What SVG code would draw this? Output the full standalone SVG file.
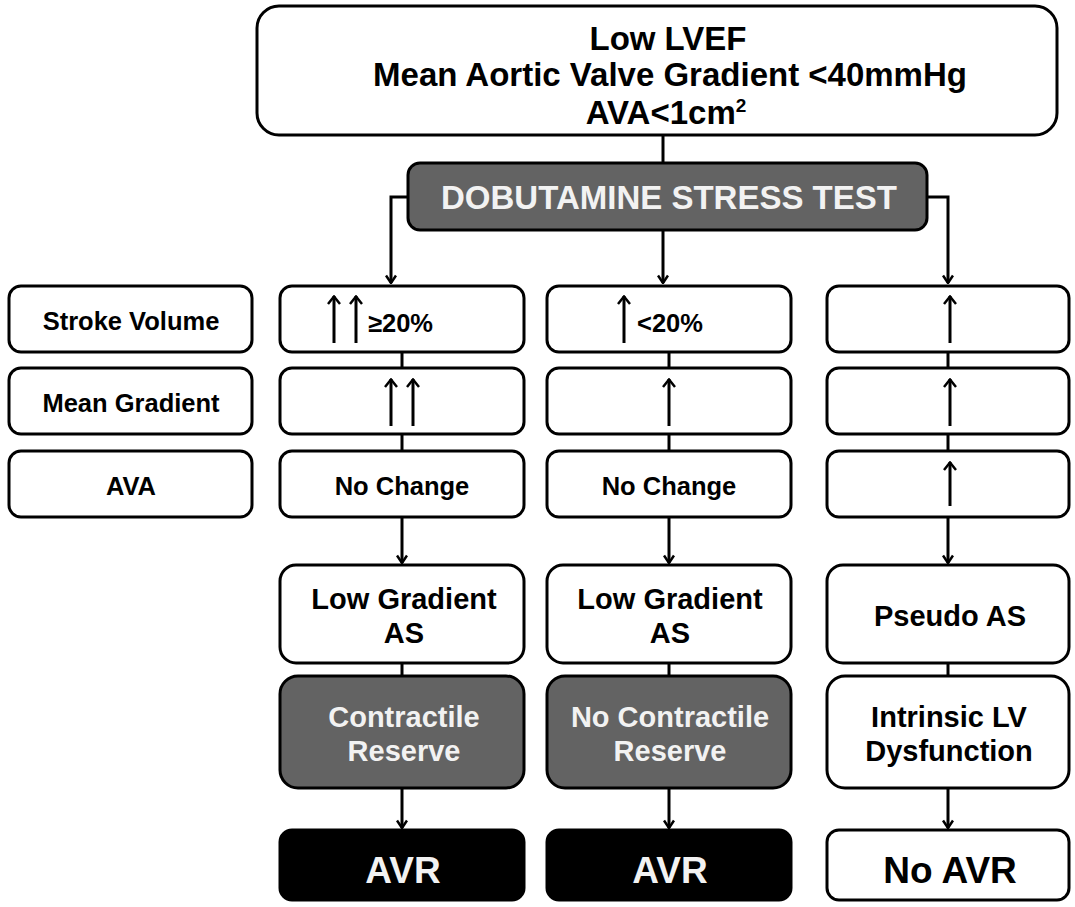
<svg xmlns="http://www.w3.org/2000/svg" width="1075" height="907" viewBox="0 0 1075 907">
<defs>
<marker id="ah" viewBox="0 0 12 12" refX="11" refY="6" markerWidth="12" markerHeight="12" markerUnits="userSpaceOnUse" orient="auto">
<path d="M3.5,1 L11,6 L3.5,11" fill="none" stroke="#000" stroke-width="2.5"/>
</marker>
<marker id="up" viewBox="0 0 14 14" refX="13" refY="7" markerWidth="14" markerHeight="14" markerUnits="userSpaceOnUse" orient="auto">
<path d="M5,1 L12.5,7 L5,13" fill="none" stroke="#000" stroke-width="2.5"/>
</marker>
</defs>
<style>
.b{fill:#fff;stroke:#000;stroke-width:3}
.g{fill:#636363;stroke:#000;stroke-width:3}
.k{fill:#000;stroke:#000;stroke-width:3}
text{font-family:"Liberation Sans",Arial,sans-serif;font-weight:bold;text-anchor:middle}
.t{fill:#000}
.w{fill:#f2f2f2}
.s{text-anchor:start}
.c{fill:none;stroke:#000;stroke-width:3}
.ua{fill:none;stroke:#000;stroke-width:3;marker-end:url(#up)}
</style>
<rect width="1075" height="907" fill="#fff"/>
<g id="connectors">
<line class="c" x1="663" y1="135" x2="663" y2="163"/>
<path class="c" d="M408,197 H391 V283" marker-end="url(#ah)"/>
<line class="c" x1="663" y1="230" x2="663" y2="283" marker-end="url(#ah)"/>
<path class="c" d="M927,197 H948 V283" marker-end="url(#ah)"/>
<line class="c" x1="402" y1="352" x2="402" y2="368"/>
<line class="c" x1="402" y1="434" x2="402" y2="451"/>
<line class="c" x1="669" y1="352" x2="669" y2="368"/>
<line class="c" x1="669" y1="434" x2="669" y2="451"/>
<line class="c" x1="948" y1="352" x2="948" y2="368"/>
<line class="c" x1="948" y1="434" x2="948" y2="451"/>
<line class="c" x1="402" y1="517" x2="402" y2="563" marker-end="url(#ah)"/>
<line class="c" x1="669" y1="517" x2="669" y2="563" marker-end="url(#ah)"/>
<line class="c" x1="948" y1="517" x2="948" y2="563" marker-end="url(#ah)"/>
<line class="c" x1="402" y1="663" x2="402" y2="676"/>
<line class="c" x1="669" y1="663" x2="669" y2="676"/>
<line class="c" x1="948" y1="663" x2="948" y2="676"/>
<line class="c" x1="402" y1="788" x2="402" y2="828" marker-end="url(#ah)"/>
<line class="c" x1="669" y1="788" x2="669" y2="828" marker-end="url(#ah)"/>
<line class="c" x1="948" y1="788" x2="948" y2="828" marker-end="url(#ah)"/>
</g>
<g id="top">
<rect class="b" x="257" y="6" width="800" height="129" rx="22"/>
<text class="t" x="668" y="50" font-size="33">Low LVEF</text>
<text class="t" x="670" y="86" font-size="33">Mean Aortic Valve Gradient &lt;40mmHg</text>
<text class="t" x="666" y="124" font-size="33">AVA&lt;1cm<tspan font-size="19" dy="-12">2</tspan></text>
</g>
<g id="dobutamine">
<rect class="g" x="408" y="163" width="519" height="67" rx="12"/>
<text class="w" x="669" y="209" font-size="33">DOBUTAMINE STRESS TEST</text>
</g>
<g id="lbl-sv"><rect class="b" x="9" y="286" width="243" height="66" rx="12"/><text class="t" x="131" y="330" font-size="25.5">Stroke Volume</text></g>
<g id="lbl-mg"><rect class="b" x="9" y="368" width="243" height="66" rx="12"/><text class="t" x="131" y="412" font-size="25.5">Mean Gradient</text></g>
<g id="lbl-ava"><rect class="b" x="9" y="451" width="243" height="66" rx="12"/><text class="t" x="131" y="495" font-size="25.5">AVA</text></g>
<g id="c1-sv"><rect class="b" x="280" y="286" width="244" height="66" rx="12"/>
<line class="ua" x1="334" y1="343" x2="334" y2="296"/><line class="ua" x1="356" y1="343" x2="356" y2="296"/>
<text class="t s" x="368" y="332" font-size="25.5">≥20%</text></g>
<g id="c1-mg"><rect class="b" x="280" y="368" width="244" height="66" rx="12"/>
<line class="ua" x1="391" y1="426" x2="391" y2="379"/><line class="ua" x1="413" y1="426" x2="413" y2="379"/></g>
<g id="c1-ava"><rect class="b" x="280" y="451" width="244" height="66" rx="12"/><text class="t" x="402" y="495" font-size="25.5">No Change</text></g>
<g id="c2-sv"><rect class="b" x="547" y="286" width="244" height="66" rx="12"/>
<line class="ua" x1="624" y1="343" x2="624" y2="296"/>
<text class="t s" x="637" y="332" font-size="25.5">&lt;20%</text></g>
<g id="c2-mg"><rect class="b" x="547" y="368" width="244" height="66" rx="12"/>
<line class="ua" x1="669" y1="426" x2="669" y2="379"/></g>
<g id="c2-ava"><rect class="b" x="547" y="451" width="244" height="66" rx="12"/><text class="t" x="669" y="495" font-size="25.5">No Change</text></g>
<g id="c3-sv"><rect class="b" x="827" y="286" width="242" height="66" rx="12"/>
<line class="ua" x1="950" y1="343" x2="950" y2="296"/></g>
<g id="c3-mg"><rect class="b" x="827" y="368" width="242" height="66" rx="12"/>
<line class="ua" x1="950" y1="426" x2="950" y2="379"/></g>
<g id="c3-ava"><rect class="b" x="827" y="451" width="242" height="66" rx="12"/>
<line class="ua" x1="950" y1="506" x2="950" y2="462"/></g>
<g id="lgas1"><rect class="b" x="280" y="565" width="244" height="98" rx="16"/>
<text class="t" x="404" y="609" font-size="29">Low Gradient</text><text class="t" x="404" y="643" font-size="29">AS</text></g>
<g id="lgas2"><rect class="b" x="547" y="565" width="244" height="98" rx="16"/>
<text class="t" x="670" y="609" font-size="29">Low Gradient</text><text class="t" x="670" y="643" font-size="29">AS</text></g>
<g id="pseudo"><rect class="b" x="827" y="565" width="242" height="98" rx="16"/>
<text class="t" x="950" y="626" font-size="29">Pseudo AS</text></g>
<g id="cr"><rect class="g" x="280" y="676" width="244" height="112" rx="18"/>
<text class="w" x="404" y="727" font-size="29">Contractile</text><text class="w" x="404" y="761" font-size="29">Reserve</text></g>
<g id="ncr"><rect class="g" x="547" y="676" width="244" height="112" rx="18"/>
<text class="w" x="670" y="727" font-size="29">No Contractile</text><text class="w" x="670" y="761" font-size="29">Reserve</text></g>
<g id="ilv"><rect class="b" x="827" y="676" width="242" height="112" rx="18"/>
<text class="t" x="949" y="727" font-size="29">Intrinsic LV</text><text class="t" x="949" y="761" font-size="29">Dysfunction</text></g>
<g id="avr1"><rect class="k" x="280" y="830" width="244" height="70" rx="12"/><text class="w" x="403" y="883" font-size="37">AVR</text></g>
<g id="avr2"><rect class="k" x="547" y="830" width="244" height="70" rx="12"/><text class="w" x="670" y="883" font-size="37">AVR</text></g>
<g id="noavr"><rect class="b" x="827" y="830" width="242" height="70" rx="12"/><text class="t" x="950" y="883" font-size="37">No AVR</text></g>
</svg>
